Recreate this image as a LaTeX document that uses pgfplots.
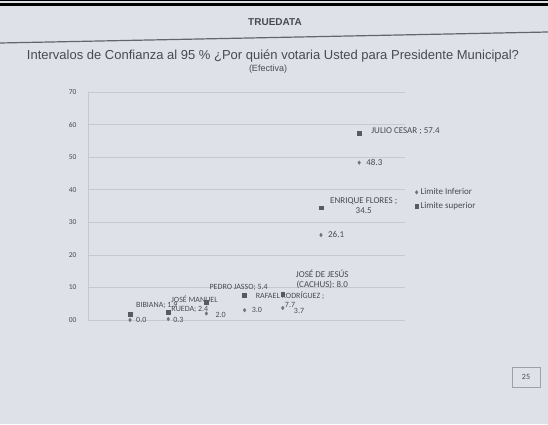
\documentclass[border=0pt]{standalone}
\usepackage{pgfplots}
\pgfplotsset{compat=1.18}
\usepackage{fontspec}
\setmainfont{Liberation Sans}
\newfontfamily\lblfont{Carlito}

\definecolor{paper}{RGB}{222,226,232}
\definecolor{gridc}{RGB}{198,202,208}
\definecolor{txt}{RGB}{72,74,80}
\definecolor{supc}{RGB}{88,90,96}
\definecolor{infc}{RGB}{112,114,120}

% limite inferior / limite superior por candidato (x = posicion)
\pgfplotstableread{
x inf sup
1 0.0 1.9
2 0.3 2.4
3 2.0 5.4
4 3.0 7.7
5 3.7 8.0
6 26.1 34.5
7 48.3 57.4
}\datos

\begin{document}
\begin{tikzpicture}[x=1pt,y=1pt]
\fill[paper] (0,0) rectangle (548,424);
\useasboundingbox (0,0) rectangle (548,424);
% bordes negros de la foto
\fill[black] (0,422.5) rectangle (548,424);
\fill[black] (0,418) rectangle (548,421);
% encabezado
\node[font=\bfseries\fontsize{10}{12}\selectfont, text=txt] at (275,402) {TRUEDATA};
\draw[line width=1.2pt, txt!85] (0,381) -- (548,392);
\node[font=\fontsize{13}{15}\selectfont, text=txt] at (273,368)
  {Intervalos de Confianza al 95 \% ¿Por quién votaria Usted para Presidente Municipal?};
\node[font=\fontsize{9}{11}\selectfont, text=txt] at (268,355) {(Efectiva)};
% numero de pagina
\draw[gridc!80!black, line width=0.6pt] (512,37) rectangle (540,57);
\node[font=\lblfont\fontsize{8}{9}\selectfont, text=txt] at (526,47) {25};

\begin{axis}[
    at={(88pt,104pt)}, anchor=south west,
    scale only axis,
    width=317pt, height=228pt,
    xmin=-0.1, xmax=8.2,
    ymin=0, ymax=70,
    xtick=\empty,
    ytick={0,10,...,70},
    yticklabels={00,10,20,30,40,50,60,70},
    yticklabel style={font=\lblfont\fontsize{7.5}{8}\selectfont, text=txt, xshift=-8pt},
    major tick length=0pt,
    ymajorgrids,
    grid style={gridc, line width=0.6pt},
    axis x line=bottom, axis y line=left,
    axis line style={gridc, line width=0.6pt, -},
    clip=false,
    legend style={at={(1.03,0.53)}, anchor=west, draw=none, fill=none,
        font=\lblfont\fontsize{9}{10}\selectfont, text=txt,
        row sep=2pt, inner sep=0pt},
    legend cell align=left,
    legend image code/.code={\draw[#1] plot coordinates {(0.12cm,0cm)};},
]
\addplot[only marks, mark=diamond*, mark size=1.8pt, infc] table[x=x, y=inf] {\datos};
\addplot[only marks, mark=square*, mark size=1.9pt, supc] table[x=x, y=sup] {\datos};
\legend{Limite Inferior, Limite superior}

\begin{scope}[every node/.style={font=\lblfont\fontsize{9}{10}\selectfont, text=txt, inner sep=0pt}]
% superior
\node[anchor=west] at ([xshift=12pt, yshift=2pt]axis cs:7,57.4) {JULIO CESAR ; 57.4};
\node[anchor=west, align=center] at ([xshift=9pt, yshift=2pt]axis cs:6,34.5) {ENRIQUE FLORES ;\\34.5};
\node[anchor=west, align=center] at ([xshift=13pt, yshift=15pt]axis cs:5,8.0) {JOSÉ DE JESÚS\\(CACHUS): 8.0};
\end{scope}
\begin{scope}[every node/.style={font=\lblfont\fontsize{8}{9}\selectfont, text=txt, inner sep=0pt}]
\node[anchor=west, align=center] at ([xshift=11pt, yshift=-5pt]axis cs:4,7.7) {RAFAEL RODRÍGUEZ ;\\7.7};
\node[anchor=west] at ([xshift=3pt, yshift=15pt]axis cs:3,5.4) {PEDRO JASSO; 5.4};
\node[anchor=west, align=left] at ([xshift=3pt, yshift=8pt]axis cs:2,2.4) {JOSÉ MANUEL\\RUEDA; 2.4};
\node[anchor=west] at ([xshift=6pt, yshift=8pt]axis cs:1,1.9) {BIBIANA; 1.9};
% inferior
\node[anchor=west] at ([xshift=11pt, yshift=-3pt]axis cs:5,3.7) {3.7};
\node[anchor=west] at ([xshift=7pt]axis cs:4,3.0) {3.0};
\node[anchor=west] at ([xshift=9pt, yshift=-1pt]axis cs:3,2.0) {2.0};
\node[anchor=west] at ([xshift=5pt, yshift=-1pt]axis cs:2,0.3) {0.3};
\node[anchor=west] at ([xshift=6pt]axis cs:1,0.0) {0.0};
\end{scope}
\begin{scope}[every node/.style={font=\lblfont\fontsize{9}{10}\selectfont, text=txt, inner sep=0pt}]
\node[anchor=west] at ([xshift=7pt]axis cs:7,48.3) {48.3};
\node[anchor=west] at ([xshift=7pt]axis cs:6,26.1) {26.1};
\end{scope}
\end{axis}
\end{tikzpicture}
\end{document}
